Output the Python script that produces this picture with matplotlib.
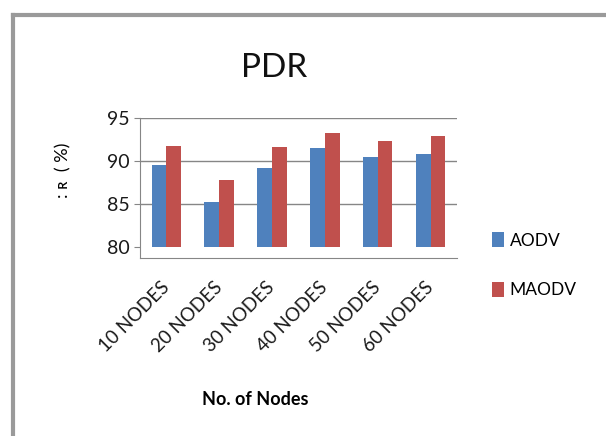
import numpy as np
import matplotlib
matplotlib.use("Agg")
import matplotlib.pyplot as plt
from matplotlib.lines import Line2D

plt.rcParams['font.family'] = ['Lato', 'DejaVu Sans']

categories = ["10 NODES", "20 NODES", "30 NODES", "40 NODES", "50 NODES", "60 NODES"]
aodv = [89.6, 85.2, 89.2, 91.5, 90.5, 90.8]
maodv = [91.8, 87.8, 91.6, 93.3, 92.3, 92.9]

fig = plt.figure(figsize=(6.06, 4.36), dpi=100)
ax = fig.add_axes([0.231, 0.408, 0.523, 0.321])

x = np.arange(len(categories))
width = 0.28
ax.bar(x - width / 2, np.array(aodv) - 80, width, bottom=80, color="#4F81BD", label="AODV")
ax.bar(x + width / 2, np.array(maodv) - 80, width, bottom=80, color="#C0504D", label="MAODV")

ax.set_xlim(-0.5, len(categories) - 0.5)
ax.set_ylim(78.7, 95)
ax.set_yticks([80, 85, 90, 95])
# gridlines only above the baseline
for yv in [85, 90, 95]:
    ax.axhline(yv, color="#868686", linewidth=1, zorder=0)
ax.tick_params(axis="y", labelsize=14, length=4, color="#868686", labelcolor="#1a1a1a")
ax.tick_params(axis="x", length=0, labelsize=13.5, labelcolor="#1a1a1a", pad=19)
ax.set_xticks(x)
ax.set_xticklabels(categories, rotation=45, ha="right", va="center", rotation_mode="anchor")
for s in ["top", "right"]:
    ax.spines[s].set_visible(False)
for s in ["left", "bottom"]:
    ax.spines[s].set_color("#868686")

fig.text(0.452, 0.845, "PDR", ha="center", va="center", fontsize=24, color="#111111")
fig.text(0.422, 0.083, "No. of Nodes", ha="center", va="center", fontsize=13, fontweight="bold")
fig.text(0.104, 0.61, ": \u0280  ( %)", ha="center", va="center", rotation=90, fontsize=13)

ax.legend(loc="center left", bbox_to_anchor=(1.06, -0.05), frameon=False, fontsize=12.5,
          handlelength=0.7, handleheight=1.0, handletextpad=0.35, labelspacing=1.9)

# frame of the original chart box
fig.add_artist(Line2D([0.021, 0.021], [0, 0.966], color="#9a9a9a", linewidth=3))
fig.add_artist(Line2D([0.021, 1.0], [0.966, 0.966], color="#9a9a9a", linewidth=3))

plt.savefig("out.png", dpi=100)
